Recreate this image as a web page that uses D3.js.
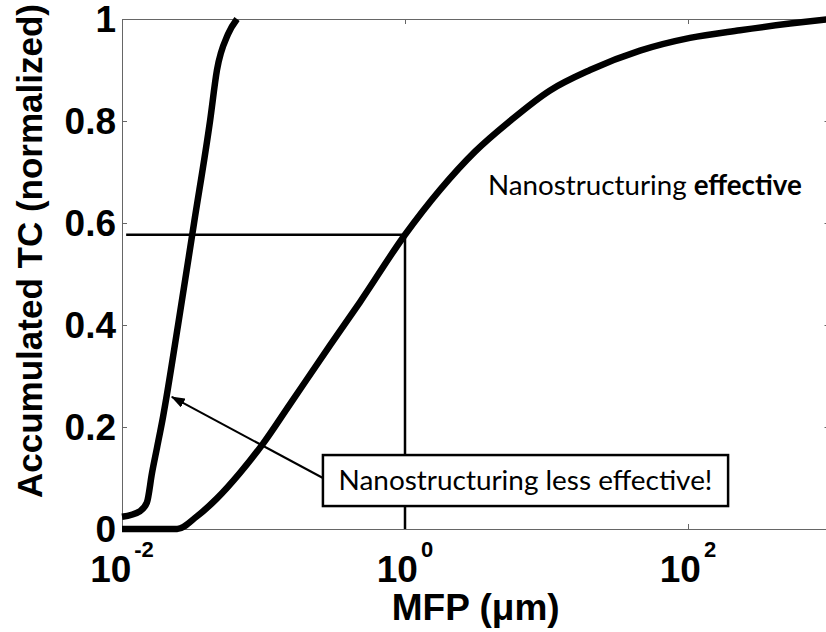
<!DOCTYPE html>
<html>
<head>
<meta charset="utf-8">
<script src="https://cdn.jsdelivr.net/npm/d3@7"></script>
<style>
  body { margin: 0; background: #fff; }
  svg { display: block; }
</style>
</head>
<body>
<svg id="chart"></svg>
<script>
// mean free path (um) vs accumulated thermal conductivity (normalized)
const fineMfp = [0.0100, 0.0134, 0.0150, 0.0163, 0.0177, 0.0195, 0.0249, 0.0323, 0.0419, 0.0469, 0.0561, 0.0650];
const fineTc = [0.024, 0.035, 0.052, 0.11, 0.16, 0.22, 0.40, 0.60, 0.80, 0.90, 0.97, 1.0];

const coarseMfp = [0.01, 0.0245, 0.0339, 0.0469, 0.0682, 0.099, 0.154, 0.295, 0.481, 1.0, 1.767, 3.124, 5.52, 10.59, 20.3, 45.8, 103.3, 233, 526, 1000];
const coarseTc = [0, 0, 0.025, 0.060, 0.110, 0.167, 0.245, 0.360, 0.445, 0.577, 0.665, 0.740, 0.800, 0.860, 0.900, 0.938, 0.963, 0.978, 0.991, 1.0];

const xTickExps = [-2, 0, 2];
const yTicks = [0, 0.2, 0.4, 0.6, 0.8, 1];
const yTickLabels = ['0', '0.2', '0.4', '0.6', '0.8', '1'];

// the read-off point at MFP = 1 um
const guideMfp = 1;
const guideTc = 0.577;

// annotations, in data units
const effectiveLabel = { mfp: 3.86, tc: 0.655, normal: 'Nanostructuring ', bold: 'effective' };
const boxLabel = { text: 'Nanostructuring less effective!', mfp: [0.263, 192], tc: [0.045, 0.145] };
const arrowFrom = [0.263, 0.10];
const arrowTo = [0.0225, 0.259];

const width = 826;
const height = 632;
const margin = { top: 19, left: 122, bottom: 103 };
const plotRight = 829.5;

const svg = d3.select('#chart')
  .attr('width', width)
  .attr('height', height);

const x = d3.scaleLog().domain([1e-2, 1e3]).range([margin.left, plotRight]);
const y = d3.scaleLinear().domain([0, 1]).range([height - margin.bottom, margin.top]);

const axisColor = '#666';
const boldFont = '"Liberation Sans", Arial, Helvetica, sans-serif';
const textFont = 'Lato, "Open Sans", sans-serif';

function fitWidth(sel, target) {
  const w = sel.node().getBBox().width;
  const fs = parseFloat(sel.attr('font-size'));
  sel.attr('font-size', fs * target / w);
}

function styleAxis(g) {
  g.select('.domain').attr('stroke', axisColor).attr('stroke-width', 1);
  g.selectAll('.tick line').attr('stroke', axisColor).attr('stroke-width', 1);
  g.selectAll('.tick text').remove();
}

// frame: all four sides with inward ticks
svg.append('g')
  .attr('transform', `translate(0,${y(0)})`)
  .call(d3.axisBottom(x).tickValues(xTickExps.map(e => 10 ** e)).tickSizeInner(-5).tickSizeOuter(0))
  .call(styleAxis);
svg.append('g')
  .attr('transform', `translate(0,${y(1)})`)
  .call(d3.axisTop(x).tickValues(xTickExps.map(e => 10 ** e)).tickSizeInner(-5).tickSizeOuter(0))
  .call(styleAxis);
svg.append('g')
  .attr('transform', `translate(${margin.left},0)`)
  .call(d3.axisLeft(y).tickValues(yTicks).tickSizeInner(-5).tickSizeOuter(0))
  .call(styleAxis);
svg.append('g')
  .attr('transform', `translate(${plotRight},0)`)
  .call(d3.axisRight(y).tickValues(yTicks).tickSizeInner(-5).tickSizeOuter(0))
  .call(styleAxis);

// tick labels
svg.append('g').selectAll('text')
  .data(yTicks)
  .join('text')
  .attr('x', margin.left - 6)
  .attr('y', d => y(d))
  .attr('dy', '0.36em')
  .attr('text-anchor', 'end')
  .attr('font-family', boldFont)
  .attr('font-weight', 'bold')
  .attr('font-size', 37)
  .text((d, i) => yTickLabels[i]);

const xLabels = svg.append('g').selectAll('text')
  .data(xTickExps)
  .join('text')
  .attr('x', d => x(10 ** d))
  .attr('y', y(0) + 53)
  .attr('text-anchor', 'middle')
  .attr('font-family', boldFont)
  .attr('font-weight', 'bold')
  .attr('font-size', 37);
xLabels.append('tspan').text('10');
xLabels.append('tspan')
  .attr('dx', 3)
  .attr('dy', -25)
  .attr('font-size', 22)
  .text(d => d);

// axis titles
svg.append('text')
  .attr('transform', `translate(42,${(y(0) + y(1)) / 2 - 23}) rotate(-90)`)
  .attr('text-anchor', 'middle')
  .attr('font-family', boldFont)
  .attr('font-weight', 'bold')
  .attr('font-size', 35)
  .text('Accumulated TC (normalized)');

svg.append('text')
  .attr('x', (margin.left + plotRight) / 2)
  .attr('y', 620)
  .attr('text-anchor', 'middle')
  .attr('font-family', boldFont)
  .attr('font-weight', 'bold')
  .attr('font-size', 37)
  .text('MFP (\u03bcm)');

// guide lines to the curve at 1 um
svg.append('path')
  .attr('d', `M${x(0.0107)},${y(guideTc)}H${x(guideMfp)}V${y(0)}`)
  .attr('fill', 'none')
  .attr('stroke', '#000')
  .attr('stroke-width', 2.5);

// curves
const line = d3.line()
  .x(d => x(d[0]))
  .y(d => y(d[1]))
  .curve(d3.curveMonotoneX);

svg.append('path')
  .datum(fineMfp.map((m, i) => [m, fineTc[i]]))
  .attr('d', line)
  .attr('fill', 'none')
  .attr('stroke', '#000')
  .attr('stroke-width', 6.5)
  .attr('stroke-linejoin', 'round');

svg.append('path')
  .datum(coarseMfp.map((m, i) => [m, coarseTc[i]]))
  .attr('d', line)
  .attr('fill', 'none')
  .attr('stroke', '#000')
  .attr('stroke-width', 6.5)
  .attr('stroke-linejoin', 'round');

// "effective" label
const eff = svg.append('text')
  .attr('x', x(effectiveLabel.mfp))
  .attr('y', y(effectiveLabel.tc))
  .attr('font-family', textFont)
  .attr('font-size', 23)
  .attr('fill', '#000');
eff.append('tspan').text(effectiveLabel.normal);
eff.append('tspan').attr('font-weight', 'bold').text(effectiveLabel.bold);
fitWidth(eff, 314);

// arrow
svg.append('defs').append('marker')
  .attr('id', 'head')
  .attr('markerUnits', 'userSpaceOnUse')
  .attr('viewBox', '0 0 14 10')
  .attr('refX', 13)
  .attr('refY', 5)
  .attr('markerWidth', 14)
  .attr('markerHeight', 10)
  .attr('orient', 'auto')
  .append('path')
  .attr('d', 'M0,0L14,5L0,10Z')
  .attr('fill', '#000');

svg.append('line')
  .attr('x1', x(arrowFrom[0]))
  .attr('y1', y(arrowFrom[1]))
  .attr('x2', x(arrowTo[0]))
  .attr('y2', y(arrowTo[1]))
  .attr('stroke', '#000')
  .attr('stroke-width', 2)
  .attr('marker-end', 'url(#head)');

// boxed label
const bx0 = x(boxLabel.mfp[0]);
const bx1 = x(boxLabel.mfp[1]);
const by0 = y(boxLabel.tc[1]);
const by1 = y(boxLabel.tc[0]);
svg.append('rect')
  .attr('x', bx0)
  .attr('y', by0)
  .attr('width', bx1 - bx0)
  .attr('height', by1 - by0)
  .attr('fill', '#fff')
  .attr('stroke', '#000')
  .attr('stroke-width', 2.5);

const boxText = svg.append('text')
  .attr('x', (bx0 + bx1) / 2)
  .attr('y', by0 + 35)
  .attr('text-anchor', 'middle')
  .attr('font-family', textFont)
  .attr('font-size', 23)
  .attr('fill', '#000')
  .text(boxLabel.text);
fitWidth(boxText, 374);
</script>
</body>
</html>
